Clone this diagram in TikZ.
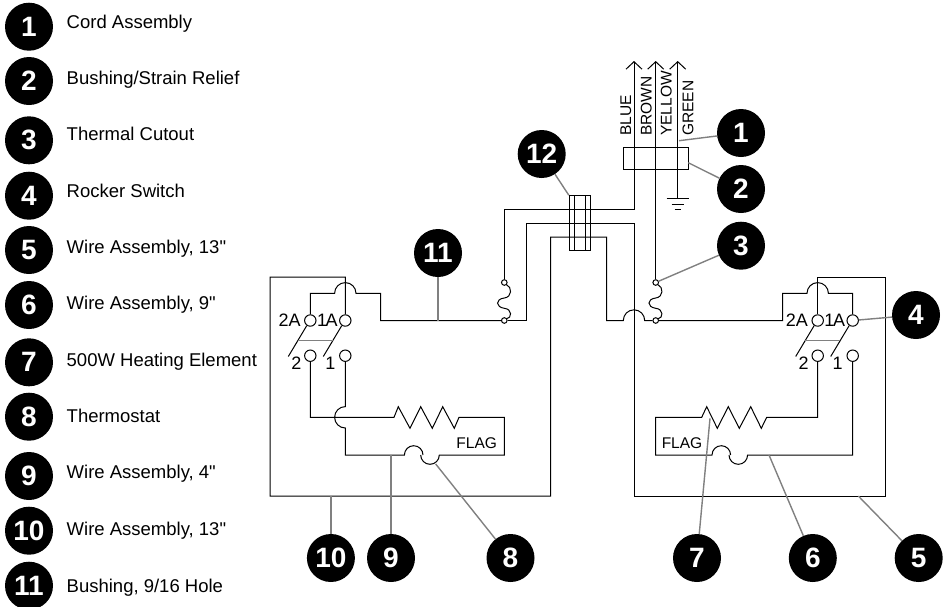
\documentclass[tikz,border=0pt]{standalone}
\usepackage{fontspec}
\setmainfont{Liberation Sans}
\newfontfamily\legendfont{Liberation Sans}
\usetikzlibrary{arrows.meta}
\tikzset{
    wire/.style={line width=1pt},
    leader/.style={line width=1.4pt,black!50},
    callout/.style={circle,fill=black,text=white,inner sep=0pt,minimum size=48pt,font=\fontsize{28}{28}\selectfont\bfseries},
    legendtext/.style={anchor=base west,inner sep=0pt,font=\legendfont\fontsize{18.5}{20}\selectfont},
    termlabel/.style={inner sep=0pt,font=\fontsize{18}{20}\selectfont},
    smalllabel/.style={inner sep=0pt,font=\fontsize{15.5}{16}\selectfont},
    terminal/.style={circle,draw,fill=white,line width=1pt,inner sep=0pt,minimum size=11.4pt},
    fuseend/.style={circle,draw,fill=white,line width=1pt,inner sep=0pt,minimum size=5.6pt},
}
\begin{document}
\begin{tikzpicture}[x=1pt,y=-1pt,>={Straight Barb[length=7.5pt,width=16pt]}]
\useasboundingbox (0,0) rectangle (943,606);
% legend
\foreach \n/\y/\ty/\txt in {1/26.7/28.3/Cord Assembly,2/81/84/{Bushing/Strain Relief},3/140.3/140.8/Thermal Cutout,4/195.7/197.2/Rocker Switch,5/250/253.8/{Wire Assembly, 13"},6/305/309.8/{Wire Assembly, 9"},7/362.3/366.5/500W Heating Element,8/416.7/422.5/Thermostat,9/476/478.8/{Wire Assembly, 4"},10/530.7/535.5/{Wire Assembly, 13"},11/585.7/592.2/{Bushing, 9/16 Hole}}
{
    \node[callout] (leg\n) at (29,\y) {\raisebox{-1pt}{\n}};
    \node[legendtext] (legtext\n) at (66.5,\ty) {\txt};
}
% callouts
\foreach \n/\px/\py in {1/741/133,2/741/189,3/741/245.7,4/916/315,5/918.7/558,6/812.8/558,7/697/558,8/510.5/558,9/391/558,10/330.9/558,11/438/253,12/541.7/154}
{
    \node[callout] (c\n) at (\px,\py) {\raisebox{-1pt}{\n}};
}
% terminals and blades
\foreach \s/\x/\xx in {L/310.3/345.3,R/817.7/852.7}
{
    \node[terminal] (t\s2A) at (\x,320.5) {};
    \node[terminal] (t\s1A) at (\xx,320.5) {};
    \node[terminal] (t\s2) at (\x,355.7) {};
    \node[terminal] (t\s1) at (\xx,355.7) {};
    \draw[wire] (\x-3.6,325.7)--(\x-22,356.5);
    \draw[wire] (\xx-3.6,325.7)--(\xx-22,356.5);
    \draw[leader] (\x-12.3,340.7)--(\xx-12.3,340.7);
    \node[termlabel,anchor=east] (l\s2A) at (\x-9.5,320.5) {2A};
    \node[termlabel,anchor=east] (l\s1A) at (\xx-7.5,320.5) {1\kern-1.5pt A};
    \node[termlabel] (l\s2) at (\x-14,363) {2};
    \node[termlabel] (l\s1) at (\xx-15,363) {1};
}
% fuses
\foreach \s/\x in {L/504.3,R/655.7}
{
    \node[fuseend] (f\s a) at (\x,282.5) {};
    \node[fuseend] (f\s b) at (\x,320.5) {};
    \draw[wire] (\x+2,284.5) .. controls (\x+8,287) and (\x+8,297) .. (\x,298) .. controls (\x-9,299) and (\x-9,307) .. (\x,308.3) .. controls (\x+8,309) and (\x+8,318) .. (\x+2,319);
}
% bundle and relief
\node[draw,wire,inner sep=0pt,minimum width=21.4pt,minimum height=54.3pt] (bundle) at (580,222.85) {};
\draw[wire] (574.7,195.7)--(574.7,250);
\draw[wire] (585.3,195.7)--(585.3,250);
\node[draw,wire,inner sep=0pt,minimum width=65pt,minimum height=21.6pt] (relief) at (655.8,158.5) {};
% cord
\coordinate (tipblue) at (634,61);
\coordinate (tipbrown) at (655.7,61);
\coordinate (tipyellow) at (677.7,61);
\coordinate (ground) at (677.7,198);
\draw[wire,->] (fLa)--(504.3,209)--(634,209)--(tipblue);
\draw[wire,->] (fRa)--(tipbrown);
\draw[wire,->] (ground)--(tipyellow);
\draw[wire] (666.7,198)--(688.7,198);
\draw[wire] (671.7,204)--(683.7,204);
\draw[wire] (674.7,209.5)--(680.7,209.5);
\node[smalllabel,rotate=90,anchor=base west] (blue) at (631,136) {BLUE};
\node[smalllabel,rotate=90,anchor=base west] (brown) at (651.7,136) {BROWN};
\node[smalllabel,rotate=90,anchor=base west] (yellow) at (671.7,136) {YELLOW};
\node[smalllabel,rotate=90,anchor=base west] (green) at (693.3,136) {GREEN};
% long wires
\draw[wire] (tL1A)--(345.3,277)--(270,277)--(270,496)--(550.7,496)--(550.7,237)--(606.7,237)--(606.7,320.5)--(623.3,320.5) arc[start angle=180,end angle=0,radius=10.7pt]--(fRb);
\draw[wire] (fRb)--(782.7,320.5)--(782.7,293.3)--(807,293.3) arc[start angle=180,end angle=0,radius=10.7pt]--(852.7,293.3)--(tR1A);
\draw[wire] (tL2A)--(310.3,293.3)--(334.6,293.3) arc[start angle=180,end angle=0,radius=10.7pt]--(380.7,293.3)--(380.7,320.5)--(fLb);
\draw[wire] (fLb)--(526,320.5)--(526,223)--(634,223)--(634,496)--(885,496)--(885,277)--(817.7,277)--(tR2A);
% left element
\draw[wire] (tL2)--(310.3,417.3)--(394,417.3)--(398.3,406.7)--(410,428.3)--(420.7,406.7)--(432.3,428.3)--(442.7,406.7)--(454.3,428.3)--(459,417.3)--(504.3,417.3)--(504.3,455)--(439.3,455) arc[start angle=0,end angle=-180,radius=9.3pt] (423,455) arc[start angle=0,end angle=180,radius=9.3pt]--(345.3,455)--(345.3,428) arc[start angle=-90,end angle=-270,radius=10.7pt]--(tL1);
\node[smalllabel] (flagL) at (476.7,443.5) {FLAG};
% right element
\draw[wire] (tR2)--(817.7,417.3)--(766.7,417.3)--(761.3,428.3)--(750.7,406.7)--(739.3,428.3)--(728.3,406.7)--(717.3,428.3)--(706.7,406.7)--(701.7,417.3)--(655.7,417.3)--(655.7,455)--(712,455) arc[start angle=180,end angle=0,radius=9.3pt] (729,455) arc[start angle=180,end angle=360,radius=9.3pt]--(852.7,455)--(tR1);
\node[smalllabel] (flagR) at (682,443.5) {FLAG};
% leaders
\coordinate (p1) at (679,140.7);
\coordinate (p2) at (688.3,162.7);
\coordinate (p5) at (858.3,496);
\coordinate (p6) at (769,455);
\coordinate (p7) at (710,418.3);
\coordinate (p8) at (435.7,464);
\coordinate (p9) at (391,455);
\coordinate (p10) at (330.9,496);
\coordinate (p11) at (438,320.5);
\draw[leader] (p1)--(c1);
\draw[leader] (p2)--(c2);
\draw[leader] (fRa)--(c3);
\draw[leader] (tR1A)--(c4);
\draw[leader] (p5)--(c5);
\draw[leader] (p6)--(c6);
\draw[leader] (p7)--(c7);
\draw[leader] (p8)--(c8);
\draw[leader] (p9)--(c9);
\draw[leader] (p10)--(c10);
\draw[leader] (p11)--(c11);
\draw[leader] (bundle.north west)--(c12);
\end{tikzpicture}
\end{document}
